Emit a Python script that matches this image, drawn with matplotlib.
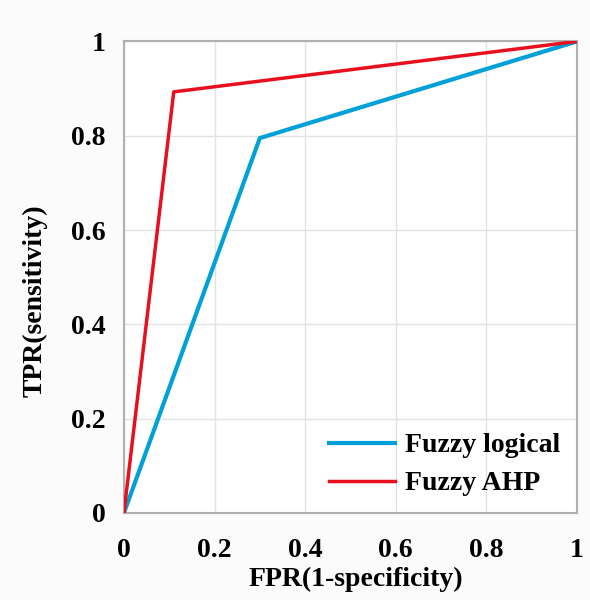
import numpy as np
import matplotlib.pyplot as plt

fpr_logical = [0, 0.30, 1]
tpr_logical = [0, 0.795, 1]
fpr_ahp = [0, 0.11, 1]
tpr_ahp = [0, 0.893, 1]
ticks = [0, 0.2, 0.4, 0.6, 0.8, 1]
tick_labels = ['0', '0.2', '0.4', '0.6', '0.8', '1']

plt.rcParams['font.family'] = ['Liberation Serif', 'DejaVu Serif']
plt.rcParams['font.weight'] = 'bold'

fig = plt.figure(figsize=(5.9, 6), dpi=100, facecolor='#fbfbfb')
ax = fig.add_axes([0.21, 0.145, 0.768, 0.786])
ax.set_facecolor('white')

ax.plot(fpr_logical, tpr_logical, color='#00a0d8', lw=3, label='Fuzzy logical', zorder=3)
ax.plot(fpr_ahp, tpr_ahp, color='#e8101e', lw=2.5, label='Fuzzy AHP', zorder=3)

ax.set_xlim(0, 1)
ax.set_ylim(0, 1)
ax.set_xticks(ticks)
ax.set_xticklabels(tick_labels)
ax.set_yticks(ticks)
ax.set_yticklabels(tick_labels)
ax.tick_params(length=0, labelsize=20)
ax.tick_params(axis='x', pad=18)
ax.tick_params(axis='y', pad=13)
ax.grid(True, color='#e2e2e2', lw=1)
for s in ax.spines.values():
    s.set_color('#b0b0b0')
    s.set_linewidth(1.5)

ax.set_xlabel('FPR(1-specificity)', fontsize=20, fontweight='bold', va='top')
ax.xaxis.set_label_coords(0.512, -0.115)
ax.set_ylabel('TPR(sensitivity)', fontsize=20, fontweight='bold')
ax.yaxis.set_label_coords(-0.168, 0.45)

leg = ax.legend(loc='lower right', frameon=False, fontsize=20, handlelength=2.4,
                handletextpad=0.35, labelspacing=0.45, borderaxespad=0.2,
                bbox_to_anchor=(1.0, 0.0))

fig.savefig('out.png', dpi=100, facecolor=fig.get_facecolor())
